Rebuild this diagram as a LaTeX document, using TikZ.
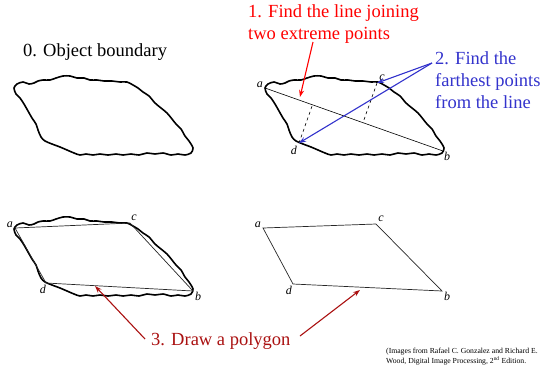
\documentclass[tikz,border=0pt]{standalone}
\usepackage{fontspec}
\setmainfont{Liberation Serif}
\usepackage{xcolor}
\usetikzlibrary{arrows.meta, positioning, calc}

\definecolor{findred}{RGB}{255,0,0}
\definecolor{findblue}{RGB}{51,51,204}
\definecolor{polyred}{RGB}{170,17,17}

% wobbly outline of the object (pixel units, y pointing down)
\newcommand{\objoutline}{plot[smooth cycle, tension=0.5] coordinates {
  (14,88) (17,84) (23,82) (29,84) (34,83) (38,81) (43,80) (50,80) (56,78)
  (63,76) (70,76) (77,78) (84,78) (90,80) (97,80) (104,81) (112,81)
  (120,82) (127,82) (133,85) (138,88) (143,92) (149,96) (155,103)
  (161,108) (167,113) (172,119) (176,124) (181,129) (185,136) (189,141)
  (193,148) (191,153) (185,155) (178,154) (171,155) (163,153) (155,154)
  (147,153) (139,155) (131,154) (123,155) (116,154) (108,155) (100,154)
  (93,155) (86,154) (80,155) (74,153) (67,150) (60,147) (52,144) (45,141)
  (41,137) (38,130) (36,124) (32,118) (28,111) (24,104) (20,98) (16,94)}}

\begin{document}
\begin{tikzpicture}[x=1pt, y=-1pt,
  every node/.style={font=\fontsize{18.5}{22}\selectfont, inner sep=0pt},
  boundary/.style={line width=1.6pt, line join=round},
  edge/.style={line width=0.7pt, black!85},
  ptlabel/.style={font=\fontsize{12}{14}\selectfont\itshape},
  tip/.style={-{Stealth[length=7pt, width=5pt]}, line width=1.1pt}]
\useasboundingbox (0,0) rectangle (543,368);

% 0. the boundary alone
\node[anchor=west] (objtitle) at (23,52) {0. Object boundary};
\draw[boundary] \objoutline;

% 1. and 2. line joining extreme points, farthest points
\begin{scope}[shift={(251,0)}]
\draw[boundary] \objoutline;
\end{scope}
\coordinate (a1) at (265,88);
\coordinate (b1) at (443,151);
\coordinate (c1) at (377,83);
\coordinate (d1) at (299,143);
\draw[line width=0.6pt] (a1) -- (b1);
\draw[dashed, line width=0.6pt] (d1) -- ($(a1)!(d1)!(b1)$);
\draw[dashed, line width=0.6pt] (c1) -- ($(a1)!(c1)!(b1)$);
\node[ptlabel, anchor=south east] (la1) at ([xshift=-2pt]a1) {a};
\node[ptlabel, anchor=south] (lc1) at ([xshift=5pt, yshift=2pt]c1) {c};
\node[ptlabel, anchor=north east] (ld1) at ([xshift=-2pt, yshift=-3pt]d1) {d};
\node[ptlabel, anchor=north west] (lb1) at ([xshift=1pt, yshift=-1pt]b1) {b};

\node[findred, anchor=north west, align=left] (findline) at (248,4)
  {1. Find the line joining\\two extreme points};
\coordinate (redtail) at (313,42);
\coordinate (redhead) at (300,97);
\draw[tip, findred] (redtail) -- (redhead);

\node[findblue, anchor=north west, align=left] (findfar) at (435,51)
  {2. Find the\\farthest points\\from the line};
\coordinate (bluetail) at (432,63);
\draw[tip, findblue] (bluetail) -- (c1);
\draw[tip, findblue] (bluetail) -- (d1);

% 3. the polygon on the boundary
\begin{scope}[shift={(0,141)}]
\draw[boundary] \objoutline;
\end{scope}
\coordinate (a2) at (15,228);
\coordinate (c2) at (130,223);
\coordinate (b2) at (193,291);
\coordinate (d2) at (46,283);
\draw[edge] (a2) -- (c2) -- (b2) -- (d2) -- cycle;
\node[ptlabel, anchor=south east] (la2) at ([xshift=-2pt]a2) {a};
\node[ptlabel, anchor=south] (lc2) at ([xshift=4pt, yshift=2pt]c2) {c};
\node[ptlabel, anchor=north east] (ld2) at ([xshift=0pt, yshift=-2pt]d2) {d};
\node[ptlabel, anchor=north west] (lb2) at ([xshift=2pt, yshift=-1pt]b2) {b};

% the polygon alone
\coordinate (a3) at (263,228);
\coordinate (c3) at (376,224);
\coordinate (b3) at (442,291);
\coordinate (d3) at (293,284);
\draw[edge] (a3) -- (c3) -- (b3) -- (d3) -- cycle;
\node[ptlabel, anchor=south east] (la3) at ([xshift=-2pt]a3) {a};
\node[ptlabel, anchor=south] (lc3) at ([xshift=5pt, yshift=2pt]c3) {c};
\node[ptlabel, anchor=north east] (ld3) at ([xshift=-1pt, yshift=-2pt]d3) {d};
\node[ptlabel, anchor=north west] (lb3) at ([xshift=2pt, yshift=-1pt]b3) {b};

\node[polyred, anchor=west] (drawpoly) at (151,341) {3. Draw a polygon};
\coordinate (leftpt) at (95,286);
\coordinate (rightpt) at (360,290);
\coordinate (lefttail) at (145,339);
\coordinate (righttail) at (300,336);
\draw[tip, polyred] (lefttail) -- (leftpt);
\draw[tip, polyred] (righttail) -- (rightpt);

% source note
\node[anchor=north west, align=left, font=\fontsize{7.7}{9.5}\selectfont] (source) at (386,348)
  {(Images from Rafael C. Gonzalez and Richard E.\\Wood, Digital Image Processing, 2\textsuperscript{nd} Edition.};
\end{tikzpicture}
\end{document}
